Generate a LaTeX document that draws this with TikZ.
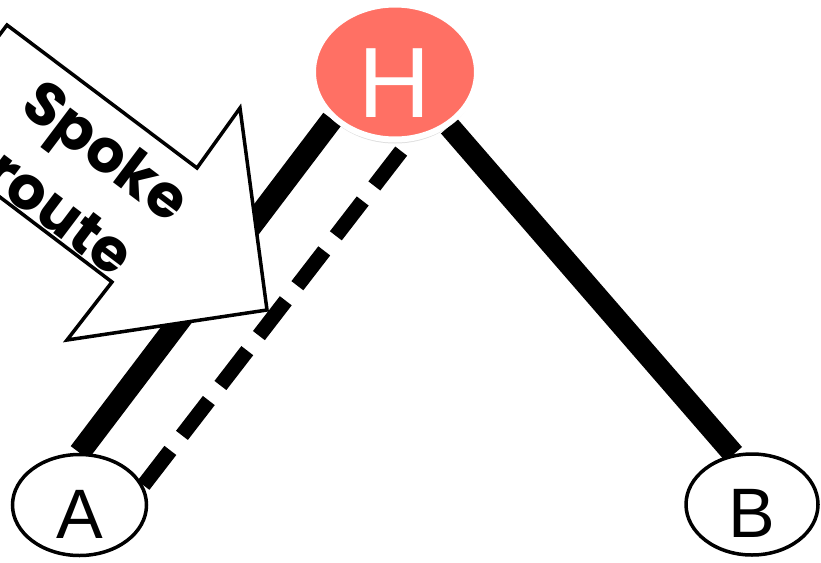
\documentclass[tikz,border=0pt]{standalone}
\usepackage{fontspec}
\setmainfont{Liberation Sans}
\newfontfamily\handfont{Poppins}
\usetikzlibrary{shapes.geometric}
\usetikzlibrary{shadows}
\definecolor{hubred}{RGB}{255,112,100}
\pgfdeclarelayer{background}
\pgfsetlayers{background,main}

\begin{document}
\begin{tikzpicture}[x=1pt, y=-1pt,
    town/.style={ellipse, draw, line width=3.5pt, fill=white, inner sep=0pt,
        minimum width=134pt, minimum height=101pt, text height=66pt,
        font=\fontsize{70}{70}\selectfont},
    hub/.style={ellipse, draw=white, line width=6pt, fill=hubred, text=white,
        inner sep=0pt, minimum width=164pt, minimum height=135pt, text height=90pt,
        font=\fontsize{100}{100}\selectfont,
        drop shadow={shadow xshift=0pt, shadow yshift=-4pt, opacity=0.25}},
    link/.style={line width=22pt},
    spokeroute/.style={line width=15pt, dash pattern=on 44pt off 19pt}]
    \useasboundingbox (0, 0) rectangle (821, 562);
    \node[hub] (H) at (395, 72) {H};
    \node[town] (A) at (79.5, 505) {A};
    \node[town, minimum width=132pt] (B) at (752, 504.5) {B};
    \begin{pgfonlayer}{background}
        \draw[link] (A.north) -- (H.217);
        \draw[link] (H.-45) -- (B.110);
        \draw[spokeroute, shorten <=12pt] (H.-79) -- (A.17);
    \end{pgfonlayer}
    % big pointer
    \begin{scope}
        \clip (0, 0) rectangle (821, 562);
        \draw[line width=3.5pt, fill=white] (-78, 138) -- (7, 25) -- (197, 168) -- (240, 108) -- (267, 310) -- (67, 340) -- (112, 282) -- cycle;
        \node[rotate=-37, align=center, font=\handfont\bfseries\fontsize{60}{77}\selectfont] (label) at (84, 181) {Spoke\\route};
    \end{scope}
\end{tikzpicture}
\end{document}
